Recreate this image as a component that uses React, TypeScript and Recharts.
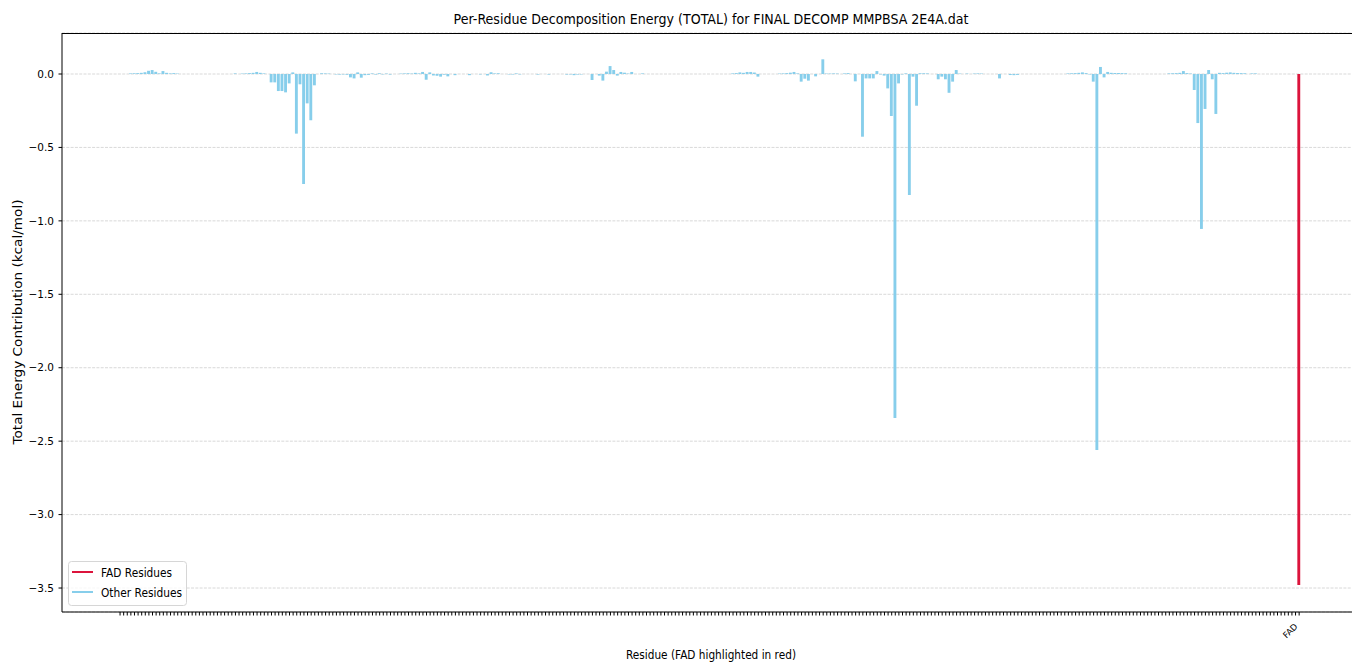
import React from 'react';
import { BarChart, Bar, XAxis, YAxis, CartesianGrid, Cell } from 'recharts';

// Per-residue total decomposition energies (kcal/mol), residue order along the x axis
const energy: number[] = [
  0, 0, 0, 0.004, 0.005, 0.006, 0.008, 0.012, 0.022, 0.027,
  0.015, 0.004, 0.02, 0.008, 0.004, 0.006, 0.003, 0, 0, 0,
  0, 0, 0, 0, 0, 0, 0, 0, 0, 0,
  0, 0, 0.004, 0, 0.003, 0.004, 0.006, 0.008, 0.014, 0.008,
  0.004, 0, -0.057, -0.057, -0.116, -0.116, -0.125, -0.064, 0.011, -0.406,
  -0.07, -0.749, -0.2, -0.315, -0.077, 0, 0.005, 0.004, 0.003, 0,
  -0.003, -0.004, -0.003, -0.005, -0.023, -0.03, 0.011, -0.025, -0.008, -0.006,
  0.004, -0.004, 0.005, -0.003, 0.003, -0.004, 0, 0, 0.003, 0.004,
  0.005, 0.003, 0.008, 0.004, 0.014, -0.039, 0.011, -0.01, -0.012, -0.018,
  -0.005, -0.016, 0, -0.008, 0, 0, 0, -0.008, 0, 0,
  -0.003, 0, -0.01, 0.012, 0.004, 0.005, 0, 0, -0.003, -0.004,
  0.004, -0.003, 0, 0, 0, 0, -0.004, 0, 0, -0.004,
  0, 0, 0, 0, -0.004, -0.003, -0.008, -0.004, -0.003, 0,
  0, -0.041, 0, -0.011, -0.045, 0.016, 0.054, 0.027, -0.011, 0.014,
  0.009, 0.003, 0.014, 0, 0, 0.004, 0, 0, 0, 0,
  0, 0, 0, 0, 0, 0, 0, 0, 0, 0,
  0, 0, 0, 0, 0, 0, 0, 0, 0, 0,
  0.004, 0.006, 0.011, 0.008, 0.014, 0.014, 0.01, -0.018, 0, 0,
  0, 0, 0, 0.003, 0.004, 0.006, 0.009, 0.014, 0.004, -0.052,
  -0.032, -0.045, 0, -0.016, 0, 0.1, 0.003, 0.003, 0.004, 0.003,
  0, 0.004, 0.006, 0, -0.05, 0, -0.427, -0.03, -0.03, -0.03,
  0.02, -0.003, -0.011, -0.098, -0.286, -2.342, -0.064, -0.003, 0.004, -0.824,
  -0.018, -0.216, 0.005, 0.005, 0.004, 0, 0, -0.036, -0.018, -0.036,
  -0.128, -0.052, 0.027, 0.003, 0, 0.003, 0, 0.003, 0.004, 0.003,
  0, 0, 0, 0, -0.03, 0, 0, -0.007, -0.008, -0.006,
  0, 0, 0, 0, 0, 0, 0, 0, 0, 0,
  0, 0, 0, 0.004, 0.005, 0.006, 0.008, 0.011, 0.006, -0.003,
  -0.052, -2.56, 0.048, -0.023, 0.014, 0.008, 0.007, 0.007, 0.006, 0.005,
  0, 0, 0, 0, 0, 0, 0, 0, 0, 0,
  0, 0.004, 0.005, 0.006, 0.008, 0.02, 0.006, 0.003, -0.109, -0.334,
  -1.055, -0.238, 0.027, -0.036, -0.272, 0.008, 0.006, 0.009, 0.011, 0.008,
  0.007, 0.006, 0.005, 0, 0.004, 0.004, 0, 0, 0, 0,
  0, 0, 0, 0, 0, 0, 0, -3.48,
];

// Only the ligand residue carries a visible tick label
const FAD_LABEL = 'FAD';
const residueLabels: string[] = energy.map((_, i) => (i === energy.length - 1 ? FAD_LABEL : ''));

const yTicks = [0, -0.5, -1, -1.5, -2, -2.5, -3, -3.5];

const FAD_COLOR = '#DC143C';
const OTHER_COLOR = '#87CEEB';
const FONT = '"DejaVu Sans", sans-serif';

const data = energy.map((v, i) => ({
  idx: i,
  label: residueLabels[i],
  energy: v,
}));

const fmt = (v: number) => {
  const s = Math.abs(v).toFixed(1);
  return v < 0 ? '\u2212' + s : s;
};

const ResidueTick = (props: any) => {
  const { x, y, payload } = props;
  const label = residueLabels[payload.value];
  if (!label) return <g />;
  const ax = x - 1;
  const ay = y + 9.5;
  return (
    <text
      x={ax}
      y={ay}
      transform={`rotate(-45, ${ax}, ${ay})`}
      textAnchor="end"
      fontSize={8.5}
      fontFamily={FONT}
      fill="#000"
    >
      {label}
    </text>
  );
};

export default function App() {
  return (
    <div
      style={{
        position: 'absolute',
        left: 0,
        top: 0,
        width: 1352,
        height: 664,
        overflow: 'hidden',
        background: '#fff',
        fontFamily: FONT,
      }}
    >
      <BarChart
        width={1360}
        height={664}
        data={data}
        margin={{ top: 33, right: 1, bottom: 0, left: 0 }}
      >
        <CartesianGrid vertical={false} stroke="#cfcfcf" strokeWidth={0.8} strokeDasharray="3 1.3" />
        <XAxis
          type="number"
          dataKey="idx"
          domain={[-16.1, 343.6]}
          allowDataOverflow
          ticks={data.map((d) => d.idx)}
          interval={0}
          tickSize={3.5}
          tick={<ResidueTick />}
          height={52}
          stroke="#000"
        />
        <YAxis
          type="number"
          domain={[-3.6633, 0.2792]}
          allowDataOverflow
          ticks={yTicks}
          tickFormatter={fmt}
          width={62}
          tickSize={3.5}
          tickMargin={4.5}
          tick={{ fontSize: 10.5, fill: '#000', fontFamily: FONT }}
          stroke="#000"
        />
        <Bar dataKey="energy" barSize={2.88} isAnimationActive={false}>
          {data.map((d) => (
            <Cell key={d.idx} fill={d.label === FAD_LABEL ? FAD_COLOR : OTHER_COLOR} />
          ))}
        </Bar>
      </BarChart>

      {/* top spine of the axes frame */}
      <div
        style={{
          position: 'absolute',
          left: 62,
          top: 33,
          width: 1300,
          height: 0,
          borderTop: '1px solid #000',
          pointerEvents: 'none',
        }}
      />

      <svg
        width={1352}
        height={664}
        style={{ position: 'absolute', left: 0, top: 0, pointerEvents: 'none' }}
      >
        <text
          x={711}
          y={24}
          textAnchor="middle"
          fontSize={14}
          fontFamily={FONT}
          fill="#000"
          textLength={515}
          lengthAdjust="spacingAndGlyphs"
        >
          Per-Residue Decomposition Energy (TOTAL) for FINAL DECOMP MMPBSA 2E4A.dat
        </text>
        <text
          x={711}
          y={659}
          textAnchor="middle"
          fontSize={12.5}
          fontFamily={FONT}
          fill="#000"
          textLength={170}
          lengthAdjust="spacingAndGlyphs"
        >
          Residue (FAD highlighted in red)
        </text>
        <text
          x={22}
          y={322}
          transform="rotate(-90, 22, 322)"
          textAnchor="middle"
          fontSize={11.5}
          fontFamily={FONT}
          fill="#000"
          textLength={245}
          lengthAdjust="spacingAndGlyphs"
        >
          Total Energy Contribution (kcal/mol)
        </text>

        {/* legend */}
        <rect x={68.5} y={561.5} width={118} height={44} rx={3} fill="#fff" fillOpacity={0.8} stroke="#d6d6d6" />
        <line x1={72} x2={93} y1={572} y2={572} stroke={FAD_COLOR} strokeWidth={2} />
        <text x={101} y={576.5} fontSize={12} fontFamily={FONT} fill="#000" textLength={71} lengthAdjust="spacingAndGlyphs">
          FAD Residues
        </text>
        <line x1={72} x2={93} y1={592} y2={592} stroke={OTHER_COLOR} strokeWidth={2} />
        <text x={101} y={596.5} fontSize={12} fontFamily={FONT} fill="#000" textLength={81} lengthAdjust="spacingAndGlyphs">
          Other Residues
        </text>
      </svg>
    </div>
  );
}
